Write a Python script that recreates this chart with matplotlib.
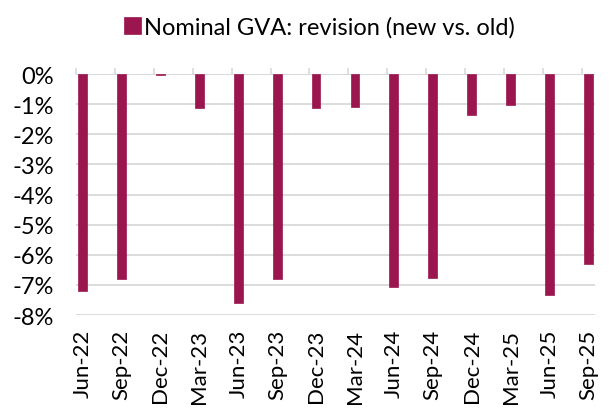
import matplotlib.pyplot as plt
import numpy as np

quarters = ["Jun-22", "Sep-22", "Dec-22", "Mar-23", "Jun-23", "Sep-23", "Dec-23",
            "Mar-24", "Jun-24", "Sep-24", "Dec-24", "Mar-25", "Jun-25", "Sep-25"]
revision = [-7.2, -6.8, -0.03, -1.12, -7.6, -6.8, -1.12,
            -1.08, -7.07, -6.76, -1.36, -1.03, -7.32, -6.3]
series_name = "Nominal GVA: revision (new vs. old)"

plt.rcParams['font.family'] = ['Lato', 'DejaVu Sans']
bar_color = '#9B164F'
grid_color = '#d9d9d9'

fig = plt.figure(figsize=(6.15, 4.1), dpi=100)
ax = fig.add_axes([0.1236, 0.229, 0.8439, 0.588])

idx = np.arange(len(quarters))
offset = 0.17
ax.bar(idx + offset, revision, width=0.225, color=bar_color, edgecolor=bar_color,
       linewidth=0.5, joinstyle='round', label=series_name, zorder=3)

ax.set_ylim(-8, 0)
ax.set_xlim(0, 13.34)
ax.set_yticks(np.arange(-8, 1, 1))
ax.set_yticklabels([f"{v}%" for v in range(-8, 1)])
ax.grid(axis='y', color=grid_color, linewidth=1.3, zorder=0)
for s in ax.spines.values():
    s.set_visible(False)
ax.axhline(0, color=grid_color, linewidth=1.3, zorder=1)

# boundary ticks on the zero line, labels under the bars
ax.set_xticks(idx)
ax.tick_params(axis='x', which='major', top=True, bottom=False, labeltop=False,
               labelbottom=False, direction='out', length=4, width=1.2, color=grid_color)
ax.set_xticks(idx + offset, quarters, minor=True)
ax.tick_params(axis='x', which='minor', length=0, pad=10, labelsize=16, rotation=90)
ax.tick_params(axis='y', length=0, pad=16, labelsize=17)

fig.legend(loc='upper center', bbox_to_anchor=(0.52, 1.01), frameon=False,
           fontsize=17, handlelength=0.7, handleheight=0.7, handletextpad=0.15)

plt.savefig("out.png", dpi=100)
